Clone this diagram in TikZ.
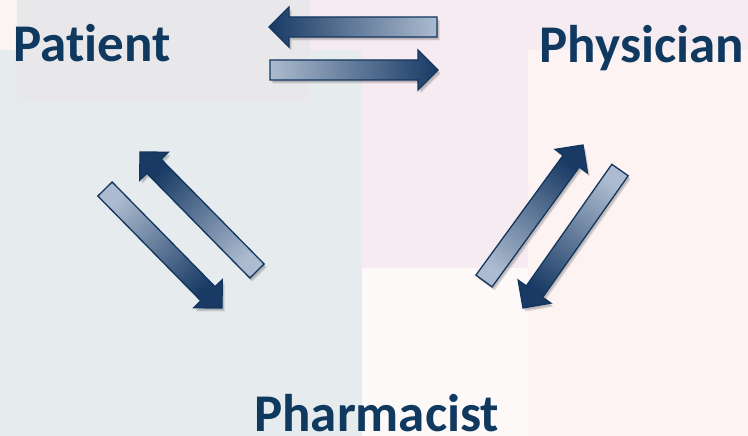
\documentclass[tikz,border=0pt]{standalone}
\usepackage{fontspec}
\setmainfont{Carlito}[Ligatures=NoCommon]
\usetikzlibrary{calc}
\definecolor{navy}{RGB}{16,57,96}
\definecolor{arrdark}{RGB}{24,58,100}
\definecolor{arrlight}{RGB}{172,187,207}
\definecolor{arredge}{RGB}{18,54,94}
\definecolor{bgleft}{RGB}{230,236,238}
\definecolor{bggray}{RGB}{232,232,235}
\definecolor{bgpink}{RGB}{246,235,240}
\definecolor{bgwhite}{RGB}{254,249,249}
\definecolor{bgright}{RGB}{253,243,243}
\definecolor{bgcorner}{RGB}{251,244,245}
\tikzset{
  lbl/.style={font=\bfseries\fontsize{53}{60}\selectfont, text=navy, inner sep=0pt, anchor=base west},
  shadowfill/.style={fill=black, fill opacity=0.12, draw=none},
  arrowbody/.style={draw=arredge, line width=1.3pt, line join=miter, top color=arrdark, bottom color=arrlight},
}
\newcommand\blockarr[3]{%
  \coordinate (#1-h) at ($(#2)!20pt!(#1)$);
  \def\arrpath{($(#1)!10pt!90:(#2)$) -- ($(#1-h)!10pt!90:(#2)$) -- ($(#1-h)!20pt!90:(#2)$) -- (#2) -- ($(#1-h)!20pt!-90:(#2)$) -- ($(#1-h)!10pt!-90:(#2)$) -- ($(#1)!10pt!-90:(#2)$) -- cycle}%
  \fill[shadowfill, transform canvas={shift={(1.5pt,-2.5pt)}}] \arrpath;
  \fill[shadowfill, transform canvas={shift={(2.5pt,-3.5pt)}}] \arrpath;
  \shade[arrowbody, shading angle=#3] \arrpath;
}
\begin{document}
\begin{tikzpicture}[x=1pt, y=-1pt]
  % backgrounds
  \useasboundingbox (0,0) rectangle (748,436);
  \fill[bgpink] (0,0) rectangle (748,436);
  \fill[bgcorner] (0,0) rectangle (17,50);
  \fill[bgleft] (0,50) rectangle (362,436);
  \fill[bggray] (17,0) rectangle (310,102);
  \fill[bgpink] (362,0) rectangle (528,268);
  \fill[bgwhite] (362,268) rectangle (528,436);
  \fill[bgright] (528,50) rectangle (748,436);
  % arrow end points
  \coordinate (tAt) at (437,27);  \coordinate (tAp) at (269,27);
  \coordinate (tBt) at (270,70);  \coordinate (tBp) at (438,70);
  \coordinate (lAt) at (257,271); \coordinate (lAp) at (140,152);
  \coordinate (lBt) at (105,189); \coordinate (lBp) at (222,308);
  \coordinate (rAt) at (484,281); \coordinate (rAp) at (583,145);
  \coordinate (rBt) at (620,170); \coordinate (rBp) at (523,308);
  \blockarr{tAt}{tAp}{90}
  \blockarr{tBt}{tBp}{-90}
  \blockarr{lAt}{lAp}{44.5}
  \blockarr{lBt}{lBp}{-135.5}
  \blockarr{rAt}{rAp}{-36}
  \blockarr{rBt}{rBp}{144.9}
  % labels
  \node[lbl] (patient) at (13,62) {Patient};
  \node[lbl] (physician) at (539.5,63) {Physician};
  \node[lbl] (pharmacist) at (254,431) {Pharmacist};
\end{tikzpicture}
\end{document}
